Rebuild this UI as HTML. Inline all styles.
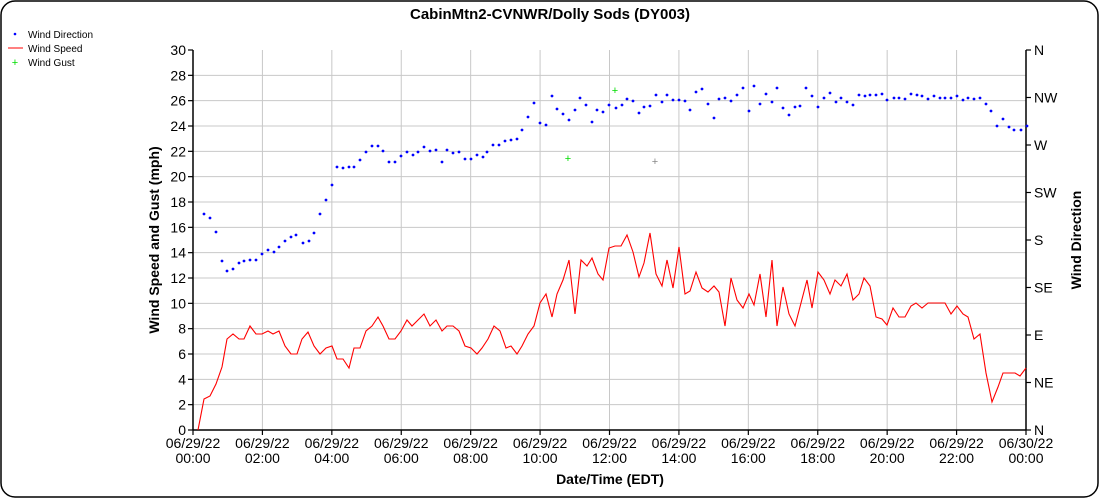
<!DOCTYPE html>
<html><head><meta charset="utf-8"><style>
html,body{margin:0;padding:0;background:#fff;}
svg{display:block;font-family:"Liberation Sans",Arial,sans-serif;}
</style></head><body>
<svg id="s" width="1100" height="500" viewBox="0 0 1100 500" xmlns="http://www.w3.org/2000/svg">
<rect x="1" y="1" width="1097" height="496" rx="14" ry="14" fill="#fff" stroke="#000" stroke-width="1.5"/>
<text x="550" y="19" text-anchor="middle" font-size="15" font-weight="bold">CabinMtn2-CVNWR/Dolly Sods (DY003)</text>
<g id="grid" stroke="#c8c8c8" stroke-width="1"></g>
<g stroke="#000" stroke-width="1.5" fill="none">
<line x1="193" y1="50" x2="193" y2="430"/>
<line x1="1026" y1="50" x2="1026" y2="430"/>
<line x1="193" y1="430" x2="1026" y2="430"/>
</g>
<g id="ticks" stroke="#000" stroke-width="1.2"></g>
<g id="labels" font-size="14" fill="#000"></g>
<text transform="translate(159,240) rotate(-90)" text-anchor="middle" font-size="14" font-weight="bold">Wind Speed and Gust (mph)</text>
<text transform="translate(1081,240) rotate(-90)" text-anchor="middle" font-size="14" font-weight="bold">Wind Direction</text>
<text x="610" y="484" text-anchor="middle" font-size="14" font-weight="bold">Date/Time (EDT)</text>
<!-- legend -->
<circle cx="15" cy="34" r="1.3" fill="#00f"/>
<text x="28" y="38" font-size="10">Wind Direction</text>
<line x1="8" y1="48" x2="23" y2="48" stroke="#f00" stroke-width="1"/>
<text x="28" y="52" font-size="10">Wind Speed</text>
<text x="15" y="66" font-size="11" fill="#0d0" text-anchor="middle">+</text>
<text x="28" y="66" font-size="10">Wind Gust</text>
<polyline fill="none" stroke="#f00" stroke-width="1.1" points="198,430 204,399 210,396 216,384 222,367 227,339 233,334 239,339 244,339 250,326 256,334 262,334 268,331 273,334 279,331 285,346 291,354 297,354 302,339 308,332 314,346 320,354 326,348 332,346 337,359 343,359 349,368 354,348 360,348 366,331 372,326 378,317 383,326 389,339 395,339 401,331 407,320 412,326 418,320 424,314 430,326 436,320 442,331 447,326 453,326 459,331 465,346 471,348 477,354 482,348 488,339 494,326 500,331 506,348 511,346 517,354 522,346 528,334 534,326 540,303 546,294 552,317 557,294 563,280 569,260 575,314 581,260 587,266 592,258 598,274 603,280 609,248 615,246 621,246 627,235 633,252 639,277 644,263 650,233 656,274 662,286 667,260 673,288 679,247 685,294 690,291 696,272 702,288 708,292 714,286 719,292 725,326 731,278 737,300 743,308 749,294 754,305 760,274 766,317 772,260 777,326 783,287 789,314 795,326 801,303 807,280 812,308 818,272 824,280 830,294 835,280 841,286 847,274 853,300 859,294 864,278 870,286 876,317 882,319 887,325 893,308 899,317 905,317 911,306 916,303 922,308 928,303 945,303 951,314 957,306 963,314 968,317 974,339 980,334 986,373 992,402 998,387 1003,373 1015,373 1020,376 1026,368"/>
<g id="dots" fill="#00f"></g>
<g font-size="11" text-anchor="middle">
<text x="568" y="162" fill="#0d0">+</text>
<text x="615" y="94" fill="#0d0">+</text>
<text x="655" y="165" fill="#888">+</text>
</g>
</svg>
<script>
var ns="http://www.w3.org/2000/svg",s=document.getElementById('s');
function el(p,t,a,txt){var e=document.createElementNS(ns,t);for(var k in a)e.setAttribute(k,a[k]);if(txt!==undefined)e.textContent=txt;document.getElementById(p).appendChild(e);return e;}
for(var v=0;v<=30;v+=2){var y=430-v*380/30;
 if(v>0&&v<30)el('grid','line',{x1:193,y1:y,x2:1026,y2:y});
 el('ticks','line',{x1:188,y1:y,x2:193,y2:y});
 el('labels','text',{x:186,y:y+5,'text-anchor':'end'},v);}
var dirs=['N','NE','E','SE','S','SW','W','NW','N'];
for(var i=0;i<9;i++){var y=430-i*380/8;el('ticks','line',{x1:1026,y1:y,x2:1031,y2:y});el('labels','text',{x:1034,y:y+5},dirs[i]);}
for(var h=0;h<=24;h+=2){var x=193+h*833/24;
 if(h>0&&h<24)el('grid','line',{x1:x,y1:50,x2:x,y2:430});
 el('ticks','line',{x1:x,y1:430,x2:x,y2:435});
 var d=h==24?'06/30/22':'06/29/22',t=(h==24?0:h);t=(t<10?'0':'')+t+':00';
 el('labels','text',{x:x,y:448,'text-anchor':'middle'},d);
 el('labels','text',{x:x,y:463,'text-anchor':'middle'},t);}
var d="204,214 210,218 216,232 222,261 227,271 233,269 239,263 244,261 250,260 256,260 262,254 268,250 274,252 279,247 285,241 291,237 296,235 303,243 309,241 314,233 320,214 326,200 332,185 337,167 343,168 349,167 354,167 360,160 366,152 372,146 378,146 383,151 389,162 395,162 401,156 407,152 413,155 418,152 424,147 430,151 436,150 442,162 447,150 453,153 459,152 465,159 471,159 477,155 483,157 487,152 493,145 499,145 505,141 511,140 517,139 522,130 528,117 534,103 540,123 546,125 552,96 557,109 563,114 569,120 575,110 580,98 586,105 592,122 597,110 603,112 609,105 616,108 622,105 627,99 633,101 639,113 644,107 650,106 656,95 662,102 667,95 673,100 679,100 685,101 690,110 696,92 702,89 708,104 714,118 719,99 725,98 731,101 737,95 743,88 749,111 754,86 760,104 766,94 772,102 777,88 783,108 789,115 795,107 800,106 806,88 812,96 818,107 824,98 830,93 836,102 841,98 847,102 853,105 859,95 865,96 870,95 876,95 882,94 887,100 894,98 899,98 905,99 911,94 917,95 922,96 928,99 934,96 940,98 945,98 951,98 957,96 963,100 968,98 974,99 980,98 986,104 991,111 997,126 1003,119 1009,127 1014,130 1021,130 1027,126".split(' ');
d.forEach(function(p){var q=p.split(',');el('dots','circle',{cx:q[0],cy:q[1],r:1.4});});
</script>
</body></html>
